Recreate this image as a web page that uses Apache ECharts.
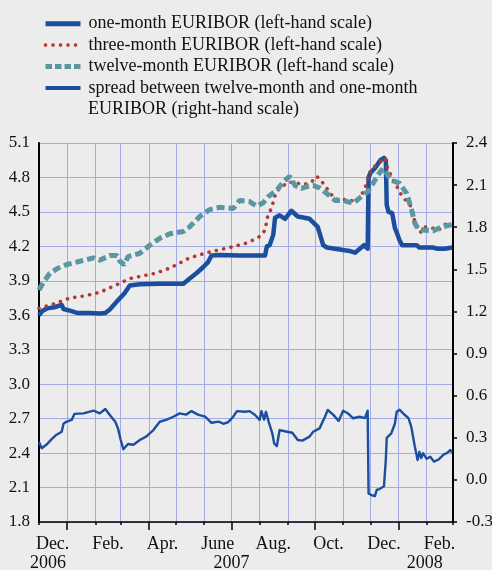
<!DOCTYPE html>
<html>
<head>
<meta charset="utf-8">
<script src="https://cdn.jsdelivr.net/npm/echarts@6/dist/echarts.min.js"></script>
<style>
html, body {margin: 0; padding: 0; background: #ececec;}
#chart {width: 492px; height: 570px;}
</style>
</head>
<body>
<div id="chart"></div>
<script>
// one-month EURIBOR, left-hand scale (% p.a.)
var oneMonthDates = ['2006-12-01', '2006-12-05', '2006-12-10', '2006-12-18', '2006-12-26', '2006-12-28', '2007-01-04', '2007-01-12',
    '2007-01-26', '2007-02-06', '2007-02-12', '2007-02-17', '2007-02-26', '2007-03-05', '2007-03-11', '2007-03-22', '2007-04-13',
    '2007-05-09', '2007-05-16', '2007-05-24', '2007-05-31', '2007-06-05', '2007-06-09', '2007-06-18', '2007-07-10', '2007-08-07',
    '2007-08-09', '2007-08-12', '2007-08-16', '2007-08-18', '2007-08-23', '2007-08-29', '2007-09-05', '2007-09-12', '2007-09-25',
    '2007-10-04', '2007-10-10', '2007-10-14', '2007-11-08', '2007-11-14', '2007-11-24', '2007-11-28', '2007-11-29', '2007-12-01',
    '2007-12-06', '2007-12-12', '2007-12-16', '2007-12-18', '2007-12-19', '2007-12-21', '2007-12-25', '2007-12-28', '2007-12-31',
    '2008-01-02', '2008-01-05', '2008-01-21', '2008-01-24', '2008-02-08', '2008-02-12', '2008-02-21', '2008-02-29'];
var oneMonth = [3.60, 3.64, 3.66, 3.67, 3.69, 3.655, 3.64, 3.62,
    3.62, 3.615, 3.62, 3.65, 3.73, 3.79, 3.86, 3.87, 3.875,
    3.875, 3.92, 3.97, 4.02, 4.06, 4.12, 4.125, 4.12, 4.12,
    4.20, 4.21, 4.30, 4.45, 4.47, 4.44, 4.51, 4.46, 4.44,
    4.37, 4.21, 4.19, 4.16, 4.145, 4.21, 4.18, 4.80, 4.84,
    4.88, 4.95, 4.97, 4.95, 4.56, 4.50, 4.49, 4.36, 4.30,
    4.255, 4.21, 4.21, 4.19, 4.19, 4.18, 4.18, 4.19];

// three-month EURIBOR, left-hand scale
var threeMonthDates = ['2006-12-01', '2006-12-18', '2007-01-04', '2007-01-21', '2007-02-06', '2007-02-23', '2007-03-11', '2007-04-08',
    '2007-04-24', '2007-05-16', '2007-06-04', '2007-06-29', '2007-07-16', '2007-07-25', '2007-08-01', '2007-08-07', '2007-08-10',
    '2007-08-14', '2007-08-19', '2007-08-25', '2007-09-03', '2007-09-11', '2007-09-20', '2007-09-27', '2007-10-03', '2007-10-08',
    '2007-10-14', '2007-10-21', '2007-10-28', '2007-11-05', '2007-11-14', '2007-11-19', '2007-11-25', '2007-11-30', '2007-12-04',
    '2007-12-11', '2007-12-17', '2007-12-20', '2007-12-26', '2007-12-31', '2008-01-04', '2008-01-09', '2008-01-15', '2008-01-18',
    '2008-01-22', '2008-01-25', '2008-01-29', '2008-02-07', '2008-02-14', '2008-02-21', '2008-02-29'];
var threeMonth = [3.66, 3.70, 3.75, 3.77, 3.80, 3.86, 3.92, 3.965,
    4.01, 4.10, 4.145, 4.19, 4.225, 4.255, 4.285, 4.34, 4.47,
    4.53, 4.67, 4.72, 4.76, 4.75, 4.74, 4.76, 4.81, 4.77,
    4.705, 4.63, 4.60, 4.61, 4.59, 4.62, 4.70, 4.84, 4.885,
    4.93, 4.97, 4.88, 4.78, 4.71, 4.65, 4.60, 4.545, 4.44,
    4.36, 4.32, 4.37, 4.36, 4.34, 4.39, 4.405];

// twelve-month EURIBOR, left-hand scale
var twelveMonthDates = ['2006-12-01', '2006-12-06', '2006-12-13', '2006-12-22', '2006-12-31', '2007-01-15', '2007-01-30', '2007-02-06',
    '2007-02-17', '2007-02-25', '2007-02-28', '2007-03-05', '2007-03-09', '2007-03-22', '2007-04-02', '2007-04-13', '2007-04-24',
    '2007-05-09', '2007-05-16', '2007-05-27', '2007-06-07', '2007-06-18', '2007-07-03', '2007-07-10', '2007-07-21', '2007-07-29',
    '2007-08-05', '2007-08-10', '2007-08-20', '2007-08-27', '2007-09-03', '2007-09-09', '2007-09-16', '2007-09-22', '2007-09-29',
    '2007-10-06', '2007-10-14', '2007-10-23', '2007-11-01', '2007-11-12', '2007-11-19', '2007-11-28', '2007-12-04', '2007-12-11',
    '2007-12-15', '2007-12-20', '2007-12-26', '2008-01-02', '2008-01-10', '2008-01-16', '2008-01-19', '2008-01-23', '2008-01-30',
    '2008-02-08', '2008-02-15', '2008-02-26', '2008-02-29'];
var twelveMonth = [3.82, 3.89, 3.965, 4.01, 4.04, 4.07, 4.10, 4.08,
    4.12, 4.12, 4.07, 4.04, 4.11, 4.14, 4.21, 4.27, 4.31,
    4.33, 4.37, 4.46, 4.52, 4.54, 4.53, 4.60, 4.59, 4.55,
    4.58, 4.63, 4.69, 4.76, 4.81, 4.73, 4.705, 4.72, 4.73,
    4.71, 4.66, 4.60, 4.60, 4.575, 4.62, 4.675, 4.75, 4.84,
    4.88, 4.82, 4.77, 4.75, 4.66, 4.50, 4.40, 4.35, 4.34,
    4.335, 4.36, 4.385, 4.39];

// spread between twelve-month and one-month EURIBOR, right-hand scale
var spreadDates = ['2006-12-01', '2006-12-04', '2006-12-09', '2006-12-15', '2006-12-20', '2006-12-26', '2006-12-28', '2006-12-31',
    '2007-01-06', '2007-01-09', '2007-01-19', '2007-01-30', '2007-02-06', '2007-02-12', '2007-02-17', '2007-02-23', '2007-02-26',
    '2007-03-01', '2007-03-04', '2007-03-09', '2007-03-15', '2007-03-22', '2007-03-29', '2007-04-06', '2007-04-13', '2007-04-20',
    '2007-04-28', '2007-05-05', '2007-05-12', '2007-05-18', '2007-05-25', '2007-06-02', '2007-06-09', '2007-06-17', '2007-06-22',
    '2007-06-27', '2007-07-03', '2007-07-07', '2007-07-16', '2007-07-21', '2007-07-27', '2007-08-01', '2007-08-03', '2007-08-06',
    '2007-08-08', '2007-08-11', '2007-08-15', '2007-08-17', '2007-08-20', '2007-08-23', '2007-08-30', '2007-09-06', '2007-09-12',
    '2007-09-17', '2007-09-25', '2007-09-29', '2007-10-06', '2007-10-12', '2007-10-15', '2007-10-21', '2007-10-27', '2007-11-01',
    '2007-11-06', '2007-11-12', '2007-11-19', '2007-11-25', '2007-11-28', '2007-11-29', '2007-12-02', '2007-12-06', '2007-12-08',
    '2007-12-11', '2007-12-16', '2007-12-18', '2007-12-19', '2007-12-24', '2007-12-28', '2007-12-30', '2008-01-02', '2008-01-08',
    '2008-01-12', '2008-01-15', '2008-01-19', '2008-01-22', '2008-01-24', '2008-01-26', '2008-01-28', '2008-02-01', '2008-02-05',
    '2008-02-09', '2008-02-14', '2008-02-19', '2008-02-24', '2008-02-27', '2008-02-29'];
var spread = [0.27, 0.225, 0.25, 0.29, 0.32, 0.343, 0.40, 0.414,
    0.427, 0.47, 0.474, 0.493, 0.474, 0.505, 0.462, 0.414, 0.367,
    0.284, 0.218, 0.256, 0.25, 0.284, 0.308, 0.355, 0.414, 0.427,
    0.45, 0.474, 0.465, 0.49, 0.465, 0.45, 0.407, 0.415, 0.40,
    0.41, 0.45, 0.49, 0.485, 0.49, 0.462, 0.427, 0.49, 0.43,
    0.485, 0.414, 0.332, 0.26, 0.24, 0.355, 0.345, 0.336, 0.284,
    0.28, 0.308, 0.343, 0.367, 0.45, 0.498, 0.465, 0.42, 0.493,
    0.475, 0.439, 0.45, 0.44, 0.493, -0.096, -0.108, -0.115, -0.072,
    -0.065, -0.045, 0.142, 0.30, 0.332, 0.40, 0.486, 0.50, 0.462,
    0.44, 0.38, 0.236, 0.142, 0.20, 0.155, 0.19, 0.15, 0.165,
    0.13, 0.145, 0.177, 0.194, 0.213, 0.194];

var seriesNames = ['one-month EURIBOR (left-hand scale)', 'three-month EURIBOR (left-hand scale)',
    'twelve-month EURIBOR (left-hand scale)', 'spread between twelve-month and one-month'];
var spreadNameLine2 = 'EURIBOR (right-hand scale)';

var monthLabelDates = ['2006-12-16', '2007-02-15', '2007-04-16', '2007-06-16', '2007-08-16', '2007-10-16', '2007-12-16', '2008-02-15'];
var monthLabels = ['Dec.', 'Feb.', 'Apr.', 'June', 'Aug.', 'Oct.', 'Dec.', 'Feb.'];
var yearLabelDates = ['2006-12-11', '2007-07-01', '2008-01-30'];
var yearLabels = ['2006', '2007', '2008'];

var startDate = '2006-12-01', endDate = '2008-03-01';

// one category per day, used only for month ticks, grid lines and labels
var days = [];
for (var t = Date.UTC(2006, 11, 1); t <= Date.UTC(2008, 2, 1); t += 86400000) {
    days.push(new Date(t).toISOString().slice(0, 10));
}

function pairs(dates, values) {
    var out = [];
    for (var i = 0; i < dates.length; i++) out.push([dates[i], values[i]]);
    return out;
}

var font = '"Liberation Serif", "Times New Roman", Times, serif';
var ink = '#111';
var gridColor = '#a3aae6';
var blue = '#1b4f9e';

var chart = echarts.init(document.getElementById('chart'), null, {renderer: 'canvas'});
var option = {
    backgroundColor: '#ececec',
    animation: false,
    textStyle: {fontFamily: font},
    grid: {left: 39, right: 39, top: 143, bottom: 48, containLabel: false, outerBoundsMode: 'none'},
    legend: {
        orient: 'vertical',
        left: 38,
        top: 8,
        itemWidth: 35,
        itemHeight: 6,
        itemGap: 0,
        selectedMode: false,
        itemStyle: {opacity: 0},
        textStyle: {fontFamily: font, fontSize: 18, lineHeight: 21.4, color: ink, padding: [0, 0, 0, 3]},
        data: [
            {name: seriesNames[0], lineStyle: {width: 5}},
            {name: seriesNames[1], lineStyle: {width: 3.6}},
            {name: seriesNames[2], lineStyle: {width: 5, type: [6.5, 3]}},
            {name: seriesNames[3], lineStyle: {width: 4}}
        ]
    },
    graphic: [{
        type: 'text', left: 88, top: 100,
        style: {text: spreadNameLine2, font: '18px "Liberation Serif", "Times New Roman", serif', fill: ink}
    }],
    xAxis: [
        {
            type: 'category', data: days, boundaryGap: false, position: 'bottom',
            axisLine: {onZero: false, lineStyle: {color: '#000', width: 1.5}},
            axisTick: {length: 3, lineStyle: {color: '#000', width: 1.5},
                interval: function (i, v) { return v.slice(8) === '01'; }},
            splitLine: {show: true, lineStyle: {color: gridColor, width: 1},
                interval: function (i, v) { return v.slice(8) === '01'; }},
            axisLabel: {
                margin: 13, fontSize: 18, color: ink, fontFamily: font,
                interval: function (i, v) { return monthLabelDates.indexOf(v) >= 0; },
                formatter: function (v) { return monthLabels[monthLabelDates.indexOf(v)]; }
            }
        },
        {
            type: 'category', data: days, boundaryGap: false, position: 'bottom',
            axisLine: {show: false, onZero: false},
            axisTick: {length: 8, lineStyle: {color: '#000', width: 1.5},
                interval: function (i, v) { return /-(01|04|07|10)-01$/.test(v); }},
            splitLine: {show: false},
            axisLabel: {
                margin: 32, fontSize: 18, color: ink, fontFamily: font,
                interval: function (i, v) { return yearLabelDates.indexOf(v) >= 0; },
                formatter: function (v) { return yearLabels[yearLabelDates.indexOf(v)]; }
            }
        },
        {type: 'time', show: false, min: startDate, max: endDate, axisLine: {onZero: false}}
    ],
    yAxis: [
        {
            type: 'value', position: 'left', min: 1.8, max: 5.1, interval: 0.3,
            axisLine: {show: true, lineStyle: {color: '#000', width: 2}},
            axisTick: {show: false},
            splitLine: {show: true, lineStyle: {color: gridColor, width: 1}},
            axisLabel: {margin: 9, fontSize: 17, color: ink, fontFamily: font,
                formatter: function (v) { return v.toFixed(1); }}
        },
        {
            type: 'value', position: 'right', min: -0.3, max: 2.4, interval: 0.3,
            axisLine: {show: true, lineStyle: {color: '#000', width: 2}},
            axisTick: {show: true, length: 4, lineStyle: {color: '#000', width: 1.5}},
            splitLine: {show: false},
            axisLabel: {margin: 13, fontSize: 17, color: ink, fontFamily: font,
                formatter: function (v) { return v.toFixed(1); }}
        }
    ],
    series: [
        {
            name: seriesNames[0], type: 'line', xAxisIndex: 2, yAxisIndex: 0,
            symbol: 'none', data: pairs(oneMonthDates, oneMonth),
            lineStyle: {color: blue, width: 4.5, join: 'round'}, itemStyle: {color: blue}
        },
        {
            name: seriesNames[1], type: 'line', xAxisIndex: 2, yAxisIndex: 0,
            symbol: 'none', data: pairs(threeMonthDates, threeMonth),
            lineStyle: {color: '#b43a2f', width: 3.6, type: [0.1, 7.4], cap: 'round'}, itemStyle: {color: '#b43a2f'}
        },
        {
            name: seriesNames[2], type: 'line', xAxisIndex: 2, yAxisIndex: 0,
            symbol: 'none', data: pairs(twelveMonthDates, twelveMonth),
            lineStyle: {color: '#5a97a2', width: 5, type: [8, 4]}, itemStyle: {color: '#5a97a2'}
        },
        {
            name: seriesNames[3], type: 'line', xAxisIndex: 2, yAxisIndex: 1,
            symbol: 'none', data: pairs(spreadDates, spread),
            lineStyle: {color: blue, width: 2.4, join: 'round'}, itemStyle: {color: blue}
        }
    ]
};
chart.setOption(option);
</script>
</body>
</html>
